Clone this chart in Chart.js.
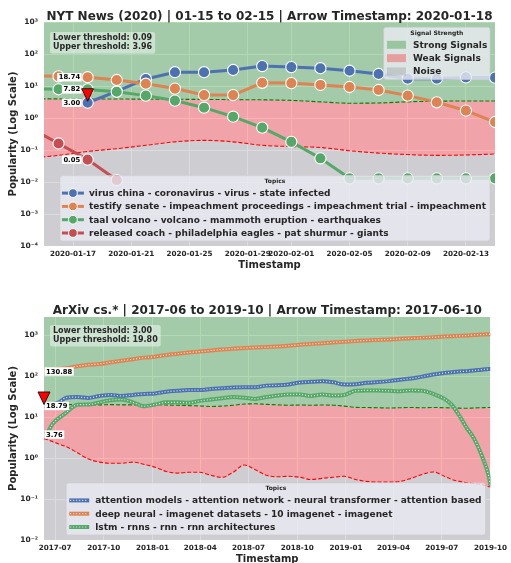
<!DOCTYPE html>
<html>
<head>
<meta charset="utf-8">
<script src="https://cdn.jsdelivr.net/npm/chart.js@4/dist/chart.umd.min.js"></script>
<style>
  body { margin: 0; background: #fff; width: 511px; height: 563px; overflow: hidden; position: relative; }
  .panel { position: absolute; left: 0; width: 511px; }
</style>
</head>
<body>
<div class="panel" style="top:0;height:282px"><canvas id="nytChart"></canvas></div>
<div class="panel" style="top:282px;height:294px"><canvas id="arxivChart"></canvas></div>
<script>
// ---- NYT News panel ----
const nytStart = '2020-01-15';
const nytEnd = '2020-02-15';
const nytArrow = '2020-01-18';
const nytDates = ['2020-01-14', '2020-01-16', '2020-01-18', '2020-01-20', '2020-01-22', '2020-01-24', '2020-01-26', '2020-01-28', '2020-01-30', '2020-02-01', '2020-02-03', '2020-02-05', '2020-02-07', '2020-02-09', '2020-02-11', '2020-02-13', '2020-02-15'];
const nytTopics = [
  'virus china - coronavirus - virus - state infected',
  'testify senate - impeachment proceedings - impeachment trial - impeachment',
  'taal volcano - volcano - mammoth eruption - earthquakes',
  'released coach - philadelphia eagles - pat shurmur - giants'
];
const nytVirus = [null, null, 3.00, 6.8, 16.6, 27, 27, 31.6, 42, 39, 36, 30, 23.7, 17, 17, 18.6, 18.3];
const nytTestify = [21, 20, 18.74, 15.4, 11.8, 8.3, 5.2, 5.2, 12.6, 12.3, 10.8, 9.3, 7.5, 5.0, 3.1, 1.7, 0.75];
const nytTaal = [8.2, 7.9, 7.82, 6.6, 5.0, 3.5, 2.1, 1.1, 0.5, 0.18, 0.055, 0.013, 0.013, 0.013, 0.013, 0.013, 0.013];
const nytCoach = [0.5, 0.16, 0.05, 0.0115, null, null, null, null, null, null, null, null, null, null, null, null, null];
const nytUpper = [3.96, 3.96, 3.96, 3.92, 3.88, 3.85, 3.8, 3.75, 3.7, 3.55, 3.2, 2.9, 2.95, 3.2, 3.35, 3.4, 3.4];
const nytLower = [0.055, 0.068, 0.09, 0.11, 0.14, 0.18, 0.2, 0.18, 0.14, 0.128, 0.12, 0.095, 0.08, 0.072, 0.068, 0.07, 0.075];
const nytTicks = ['2020-01-17', '2020-01-21', '2020-01-25', '2020-01-29', '2020-02-01', '2020-02-05', '2020-02-09', '2020-02-13'];
const nytTickLabels = ['2020-01-17', '2020-01-21', '2020-01-25', '2020-01-29', '2020-02-01', '2020-02-05', '2020-02-09', '2020-02-13'];

// ---- ArXiv panel ----
const arxivStart = '2017-06-10';
const arxivEnd = '2019-10-01';
const arxivArrow = '2017-06-10';
const arxivDates = ['2017-06-10', '2017-06-17', '2017-06-24', '2017-07-01', '2017-07-08', '2017-07-22', '2017-08-12', '2017-09-02', '2017-09-23', '2017-10-14', '2017-11-04', '2017-11-25', '2017-12-16', '2018-01-06', '2018-01-27', '2018-02-17', '2018-03-10', '2018-03-31', '2018-04-21', '2018-05-12', '2018-06-02', '2018-06-23', '2018-07-14', '2018-08-04', '2018-08-25', '2018-09-15', '2018-10-06', '2018-10-27', '2018-11-17', '2018-12-08', '2018-12-29', '2019-01-19', '2019-02-09', '2019-03-02', '2019-03-23', '2019-04-13', '2019-05-04', '2019-05-25', '2019-06-15', '2019-07-06', '2019-07-20', '2019-08-03', '2019-08-17', '2019-08-31', '2019-09-14', '2019-09-28', '2019-10-01'];
const arxivTopics = [
  'attention models - attention network - neural transformer - attention based',
  'deep neural - imagenet datasets - 10 imagenet - imagenet',
  'lstm - rnns - rnn - rnn architectures'
];
const arxivAttention = [18.79, 19.5, 20.5, 21.5, 23, 30, 31, 29.5, 33, 35, 33, 35, 37, 38, 42, 44, 46, 46, 49, 51, 53, 54, 54, 59, 60, 63, 70, 73, 75, 71, 63, 64, 69, 72, 76, 82, 88, 98, 110, 120, 125, 130, 133, 138, 145, 150, 150];
const arxivDeep = [130.88, 135, 140, 145, 150, 156, 175, 190, 200, 220, 240, 260, 285, 300, 330, 355, 380, 400, 425, 450, 470, 490, 505, 515, 530, 555, 590, 610, 640, 670, 700, 725, 750, 770, 790, 820, 845, 870, 900, 930, 950, 970, 990, 1020, 1040, 1060, 1070];
const arxivLstm = [3.76, 4.3, 6.2, 8, 9.5, 13, 20, 20.4, 23, 26, 27, 23, 18.5, 20.4, 23, 23, 22.4, 25, 27, 29, 31, 30, 28, 31, 34, 36, 36, 33, 36, 34, 35, 44, 45, 45, 44, 43, 45, 44, 37, 28, 20, 11, 5.5, 3.0, 1.2, 0.35, 0.21];
const arxivUpper = [19.8, 19.8, 19.8, 19.9, 20, 20.2, 20.4, 20.2, 20.0, 20.3, 20.0, 20.0, 19.6, 20.2, 19.8, 19.5, 19.2, 18.8, 18.3, 18.6, 19.5, 21.0, 21.2, 20.5, 20.0, 19.6, 19.8, 19.6, 19.8, 19.6, 18.6, 17.4, 17.2, 17.0, 16.8, 17.0, 17.2, 17.0, 17.3, 17.0, 16.8, 16.6, 16.5, 16.8, 17.0, 17.2, 17.2];
const arxivLower = [3.0, 2.8, 2.6, 2.4, 2.2, 1.9, 1.35, 0.95, 0.8, 0.75, 0.75, 0.8, 0.7, 0.6, 0.47, 0.43, 0.45, 0.45, 0.38, 0.34, 0.45, 0.68, 0.52, 0.38, 0.35, 0.36, 0.34, 0.30, 0.32, 0.34, 0.36, 0.3, 0.27, 0.26, 0.26, 0.27, 0.32, 0.4, 0.46, 0.36, 0.3, 0.27, 0.25, 0.24, 0.23, 0.2, 0.2];
const arxivTicks = ['2017-07-01', '2017-10-01', '2018-01-01', '2018-04-01', '2018-07-01', '2018-10-01', '2019-01-01', '2019-04-01', '2019-07-01', '2019-10-01'];
const arxivTickLabels = ['2017-07', '2017-10', '2018-01', '2018-04', '2018-07', '2018-10', '2019-01', '2019-04', '2019-07', '2019-10'];

// shared log axis ticks
const logTicks = [1e-4, 1e-3, 1e-2, 1e-1, 1, 10, 100, 1000];
const logTickLabels = ['10⁻⁴', '10⁻³', '10⁻²', '10⁻¹', '10⁰', '10¹', '10²', '10³'];

const topicColors = ['#4c72b0', '#dd8452', '#55a868', '#c44e52'];
const FONT = '"DejaVu Sans", sans-serif';
const INK = '#262626';
const DAY = 864e5;
const dayOf = (d, start) => (Date.parse(d) - Date.parse(start)) / DAY;
const pts = (dates, vals, start) => dates.map((d, i) => ({ x: dayOf(d, start), y: vals[i] }));

function legendFrame(ctx, x, y, w, h) {
  ctx.beginPath();
  ctx.roundRect(x, y, w, h, 2.5);
  ctx.fillStyle = 'rgba(234,234,242,0.8)';
  ctx.fill();
  ctx.strokeStyle = 'rgba(204,204,204,0.8)';
  ctx.lineWidth = 0.8;
  ctx.stroke();
}

function dottedHandle(ctx, x0, x1, yy, color) {
  ctx.beginPath(); ctx.moveTo(x0, yy); ctx.lineTo(x1, yy);
  ctx.strokeStyle = color; ctx.lineWidth = 4; ctx.setLineDash([]); ctx.stroke();
  ctx.beginPath(); ctx.moveTo(x0 + 1, yy); ctx.lineTo(x1 - 1, yy);
  ctx.strokeStyle = 'rgba(255,255,255,0.85)'; ctx.lineWidth = 1.2; ctx.setLineDash([1, 2]); ctx.stroke();
  ctx.setLineDash([]);
}

function makeDecor(cfg) {
  return {
    id: 'decor',
    beforeDraw(chart) {
      const { ctx, chartArea: a } = chart;
      ctx.save();
      ctx.fillStyle = '#eaeaf2';
      ctx.fillRect(a.left, a.top, a.width, a.height);
      ctx.restore();
    },
    afterDraw(chart) {
      const { ctx, chartArea: a, scales: { x, y } } = chart;
      const ai = cfg.dates.indexOf(cfg.arrow);
      const ax = x.getPixelForValue(dayOf(cfg.arrow, cfg.start));
      ctx.save();

      // title, centred over the plot area
      ctx.font = `bold 12px ${FONT}`;
      ctx.fillStyle = INK;
      ctx.textAlign = 'center';
      ctx.textBaseline = 'alphabetic';
      ctx.fillText(cfg.title, (a.left + a.right) / 2, cfg.titleBase);

      // value labels at the arrow timestamp
      ctx.font = `bold 6.8px ${FONT}`;
      ctx.textBaseline = 'middle';
      ctx.textAlign = 'left';
      cfg.series.forEach(s => {
        const v = s.data[ai];
        if (v == null) return;
        const py = y.getPixelForValue(v);
        const t = v.toFixed(2);
        const tw = ctx.measureText(t).width;
        const tx = cfg.labelSide === 'left' ? ax - 7.5 - tw : ax + 2;
        ctx.fillStyle = '#fff';
        ctx.fillRect(tx - 1.5, py - 4.2, tw + 3, 8.4);
        ctx.fillStyle = '#000';
        ctx.fillText(t, tx, py + 0.3);
      });

      // arrow marker on first topic
      const py0 = y.getPixelForValue(cfg.series[0].data[ai]);
      ctx.beginPath();
      ctx.moveTo(ax, py0 - 1.5);
      ctx.lineTo(ax - 6, py0 - 14);
      ctx.lineTo(ax + 6, py0 - 14);
      ctx.closePath();
      ctx.fillStyle = '#ff0000';
      ctx.fill();
      ctx.strokeStyle = '#000';
      ctx.lineWidth = 0.8;
      ctx.stroke();

      // threshold text box
      ctx.font = `bold 8px ${FONT}`;
      const l1 = `Lower threshold: ${cfg.lower[ai].toFixed(2)}`;
      const l2 = `Upper threshold: ${cfg.upper[ai].toFixed(2)}`;
      const bw = Math.max(ctx.measureText(l1).width, ctx.measureText(l2).width) + 6;
      const bx = a.left + 6, by = a.top + cfg.boxTop;
      ctx.beginPath();
      ctx.roundRect(bx, by, bw, 21.5, 2);
      ctx.fillStyle = 'rgba(255,255,255,0.45)';
      ctx.fill();
      ctx.fillStyle = INK;
      ctx.fillText(l1, bx + 3, by + 5.8);
      ctx.fillText(l2, bx + 3, by + 15);

      // signal strength legend
      if (cfg.signalLegend) {
        const names = ['Strong Signals', 'Weak Signals', 'Noise'];
        const fills = ['rgba(0,128,0,0.3)', 'rgba(255,0,0,0.3)', 'rgba(128,128,128,0.28)'];
        ctx.font = `bold 9px ${FONT}`;
        const tw = Math.max(...names.map(n => ctx.measureText(n).width));
        const w = 29 + tw + 3, h = 17.5 + 2 * 13.3 + 8;
        const lx = a.right - 5 - w, ly = a.top + 5.3;
        legendFrame(ctx, lx, ly, w, h);
        ctx.font = `bold 6px ${FONT}`;
        ctx.fillStyle = INK;
        ctx.textAlign = 'center';
        ctx.fillText('Signal Strength', lx + w / 2, ly + 6);
        ctx.textAlign = 'left';
        ctx.font = `bold 9px ${FONT}`;
        names.forEach((n, i) => {
          const yy = ly + 17.5 + i * 13.3;
          ctx.fillStyle = fills[i];
          ctx.fillRect(lx + 3.3, yy - 4, 19, 8);
          ctx.fillStyle = INK;
          ctx.fillText(n, lx + 29.3, yy + 0.5);
        });
      }

      // topics legend
      ctx.font = `bold 9px ${FONT}`;
      const tw = Math.max(...cfg.series.map(s => ctx.measureText(s.label).width));
      const n = cfg.series.length;
      const w = 29 + tw + 4, h = 17.5 + (n - 1) * 13.3 + 8;
      const lx = a.right - 5 - w, ly = a.bottom - 5 - h;
      legendFrame(ctx, lx, ly, w, h);
      ctx.font = `bold 6px ${FONT}`;
      ctx.fillStyle = INK;
      ctx.textAlign = 'center';
      ctx.fillText('Topics', lx + w / 2, ly + 6);
      ctx.textAlign = 'left';
      cfg.series.forEach((s, i) => {
        const yy = ly + 17.5 + i * 13.3;
        if (cfg.dense) {
          dottedHandle(ctx, lx + 3, lx + 23, yy, s.color);
        } else {
          ctx.beginPath(); ctx.moveTo(lx + 2, yy); ctx.lineTo(lx + 24, yy);
          ctx.strokeStyle = s.color; ctx.lineWidth = 3; ctx.stroke();
          ctx.beginPath(); ctx.arc(lx + 13, yy, 4.4, 0, Math.PI * 2);
          ctx.fillStyle = s.color; ctx.fill();
          ctx.strokeStyle = '#fff'; ctx.lineWidth = 1; ctx.stroke();
        }
        ctx.font = `bold 9px ${FONT}`;
        ctx.fillStyle = INK;
        ctx.fillText(s.label, lx + 29, yy + 0.5);
      });
      ctx.restore();
    }
  };
}

function buildChart(id, cfg) {
  const datasets = [
    { data: pts(cfg.dates, cfg.upper, cfg.start), borderColor: '#008000', borderWidth: 1.1, borderDash: [4, 2],
      fill: 'end', backgroundColor: 'rgba(0,128,0,0.3)', pointRadius: 0, cubicInterpolationMode: 'monotone', order: 20 },
    { data: pts(cfg.dates, cfg.lower, cfg.start), borderColor: '#ff0000', borderWidth: 1.1, borderDash: [4, 2],
      fill: '-1', backgroundColor: 'rgba(255,0,0,0.3)', pointRadius: 0, cubicInterpolationMode: 'monotone', order: 21 },
    { data: pts(cfg.dates, cfg.lower, cfg.start), borderWidth: 0, borderColor: 'rgba(0,0,0,0)',
      fill: 'start', backgroundColor: 'rgba(128,128,128,0.28)', pointRadius: 0, cubicInterpolationMode: 'monotone', order: 22 }
  ];
  const n = cfg.series.length;
  cfg.series.forEach((s, i) => {
    const data = pts(cfg.dates, s.data, cfg.start);
    if (cfg.dense) {
      datasets.push({ data, borderColor: s.color, borderWidth: 4, pointRadius: 0, fill: false,
        cubicInterpolationMode: 'monotone', order: 2 * (n - i) });
      datasets.push({ data, borderColor: 'rgba(255,255,255,0.85)', borderWidth: 1.2, borderDash: [1, 2], pointRadius: 0, fill: false,
        cubicInterpolationMode: 'monotone', order: 2 * (n - i) - 1 });
    } else {
      datasets.push({ data, borderColor: s.color, backgroundColor: s.color, borderWidth: 3, pointRadius: 5.6,
        pointBackgroundColor: s.color, pointBorderColor: '#fff', pointBorderWidth: 1.1, fill: false, order: n - i });
    }
  });
  const yVals = logTicks.filter(v => v >= cfg.yMin * 0.999 && v <= cfg.yMax);
  const yLabels = logTickLabels.filter((l, i) => logTicks[i] >= cfg.yMin * 0.999 && logTicks[i] <= cfg.yMax);
  return new Chart(document.getElementById(id).getContext('2d'), {
    type: 'line',
    data: { datasets },
    plugins: [makeDecor(cfg)],
    options: {
      responsive: true, maintainAspectRatio: false, animation: false, events: [],
      layout: { padding: { left: 0, right: 16, top: cfg.plotTop, bottom: 0 } },
      plugins: {
        legend: { display: false },
        tooltip: { enabled: false },
        title: { display: false }
      },
      scales: {
        x: {
          type: 'linear', min: 0, max: dayOf(cfg.end, cfg.start),
          grid: { color: '#ffffff', lineWidth: 1, drawTicks: false },
          border: { display: false },
          afterBuildTicks: s => { s.ticks = cfg.ticks.map(t => ({ value: dayOf(t, cfg.start) })); },
          afterFit: s => { s.height = 36; },
          ticks: { autoSkip: false, maxRotation: 0, padding: 4, color: INK, font: { family: FONT, size: 7.2, weight: 'bold' },
            callback: (v, i) => cfg.tickLabels[i] },
          title: { display: true, text: 'Timestamp', color: INK, font: { family: FONT, size: 10, weight: 'bold' },
            padding: { top: 0, bottom: 11 } }
        },
        y: {
          type: 'logarithmic', min: cfg.yMin, max: cfg.yMax,
          grid: { color: '#ffffff', lineWidth: 1, drawTicks: false },
          border: { display: false },
          afterBuildTicks: s => { s.ticks = yVals.map(v => ({ value: v })); },
          afterFit: s => { s.width = 44; },
          ticks: { autoSkip: false, padding: 6, color: INK, font: { family: FONT, size: 7.5, weight: 'bold' },
            callback: (v, i) => yLabels[i] },
          title: { display: true, text: 'Popularity (Log Scale)', color: INK, font: { family: FONT, size: 10, weight: 'bold' },
            padding: { top: 7, bottom: 0 } }
        }
      }
    }
  });
}

buildChart('nytChart', {
  title: 'NYT News (2020) | 01-15 to 02-15 | Arrow Timestamp: 2020-01-18',
  start: nytStart, end: nytEnd, arrow: nytArrow, dates: nytDates,
  upper: nytUpper, lower: nytLower,
  series: [
    { label: nytTopics[0], data: nytVirus, color: topicColors[0] },
    { label: nytTopics[1], data: nytTestify, color: topicColors[1] },
    { label: nytTopics[2], data: nytTaal, color: topicColors[2] },
    { label: nytTopics[3], data: nytCoach, color: topicColors[3] }
  ],
  ticks: nytTicks, tickLabels: nytTickLabels,
  yMin: 1e-4, yMax: 1e3, dense: false, labelSide: 'left', signalLegend: true,
  boxTop: 10, plotTop: 22, titleBase: 19.5
});

buildChart('arxivChart', {
  title: 'ArXiv cs.* | 2017-06 to 2019-10 | Arrow Timestamp: 2017-06-10',
  start: arxivStart, end: arxivEnd, arrow: arxivArrow, dates: arxivDates,
  upper: arxivUpper, lower: arxivLower,
  series: [
    { label: arxivTopics[0], data: arxivAttention, color: topicColors[0] },
    { label: arxivTopics[1], data: arxivDeep, color: topicColors[1] },
    { label: arxivTopics[2], data: arxivLstm, color: topicColors[2] }
  ],
  ticks: arxivTicks, tickLabels: arxivTickLabels,
  yMin: 1e-2, yMax: 2800, dense: true, labelSide: 'right', signalLegend: false,
  boxTop: 8, plotTop: 35, titleBase: 31.5
});
</script>
</body>
</html>
